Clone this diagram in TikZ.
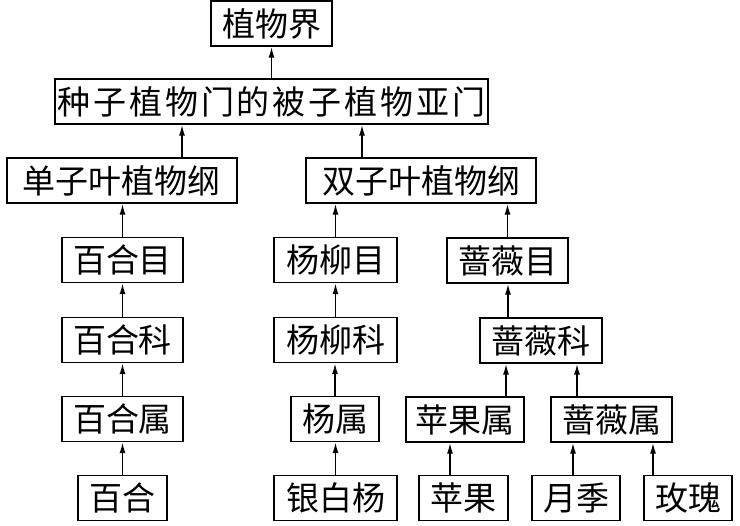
\documentclass[tikz,border=0pt]{standalone}
\usepackage{fontspec}
\newfontfamily\cjk{Noto Sans CJK SC}
\newfontfamily\cjkwide[LetterSpace=9]{Noto Sans CJK SC}
\usetikzlibrary{arrows.meta}

\begin{document}
\begin{tikzpicture}[x=1pt, y=-1pt,
  box/.style={draw, line width=1.4pt, inner sep=0pt, minimum height=45pt, font=\cjk\fontsize{33}{33}\selectfont},
  arr/.style={line width=1.5pt, -{Latex[length=11pt, width=6pt]}}]
  \useasboundingbox (0,0) rectangle (740,526);
  \node (kingdom) [box, minimum width=121pt] at (271.5, 23.5) {植物界};
  \node (phylum) [box, minimum width=433pt, font=\cjkwide\fontsize{33}{33}\selectfont] at (271.5, 101.5) {种子植物门的被子植物亚门};
  \node (mono) [box, minimum width=230pt] at (122, 180.5) {单子叶植物纲};
  \node (dico) [box, minimum width=230pt] at (421, 180.5) {双子叶植物纲};
  \node (lilyord) [box, minimum width=121pt] at (122.5, 260) {百合目};
  \node (salixord) [box, minimum width=123pt] at (335.5, 260) {杨柳目};
  \node (rosaord) [box, minimum width=121pt] at (507.5, 260.5) {蔷薇目};
  \node (lilyfam) [box, minimum width=121pt] at (122.5, 340) {百合科};
  \node (salixfam) [box, minimum width=123pt] at (335.5, 340) {杨柳科};
  \node (rosafam) [box, minimum width=122pt] at (541, 340.5) {蔷薇科};
  \node (lilygen) [box, minimum width=121pt] at (122.5, 419) {百合属};
  \node (popgen) [box, minimum width=88pt] at (335, 419) {杨属};
  \node (applegen) [box, minimum width=118pt] at (465, 419.5) {苹果属};
  \node (rosagen) [box, minimum width=121pt] at (611.5, 419.5) {蔷薇属};
  \node (lily) [box, minimum width=89pt] at (122.5, 498) {百合};
  \node (poplar) [box, minimum width=123pt] at (335.5, 498) {银白杨};
  \node (apple) [box, minimum width=89pt] at (463.5, 498) {苹果};
  \node (yueji) [box, minimum width=88pt] at (576, 498) {月季};
  \node (meigui) [box, minimum width=88pt] at (688, 498) {玫瑰};
  % upward arrows
  \draw[arr] (phylum.north) -- (kingdom.south);
  \draw[arr] ([xshift=60pt]mono.north) -- ([xshift=60pt]mono.north |- phylum.south);
  \draw[arr] ([xshift=-59pt]dico.north) -- ([xshift=-59pt]dico.north |- phylum.south);
  \draw[arr] (lilyord.north) -- (lilyord.north |- mono.south);
  \draw[arr] (salixord.north) -- (salixord.north |- dico.south);
  \draw[arr] (rosaord.north) -- (rosaord.north |- dico.south);
  \draw[arr] (lilyfam) -- (lilyord);
  \draw[arr] (salixfam) -- (salixord);
  \draw[arr] ([xshift=-33pt]rosafam.north) -- ([xshift=-33pt]rosafam.north |- rosaord.south);
  \draw[arr] (lilygen) -- (lilyfam);
  \draw[arr] (popgen.north) -- (popgen.north |- salixfam.south);
  \draw[arr] ([xshift=41pt]applegen.north) -- ([xshift=41pt]applegen.north |- rosafam.south);
  \draw[arr] ([xshift=-34.5pt]rosagen.north) -- ([xshift=-34.5pt]rosagen.north |- rosafam.south);
  \draw[arr] (lily) -- (lilygen);
  \draw[arr] (poplar.north) -- (poplar.north |- popgen.south);
  \draw[arr] ([xshift=-13.5pt]apple.north) -- ([xshift=-13.5pt]apple.north |- applegen.south);
  \draw[arr] ([xshift=-3pt]yueji.north) -- ([xshift=-3pt]yueji.north |- rosagen.south);
  \draw[arr] ([xshift=-35pt]meigui.north) -- ([xshift=-35pt]meigui.north |- rosagen.south);
\end{tikzpicture}
\end{document}
